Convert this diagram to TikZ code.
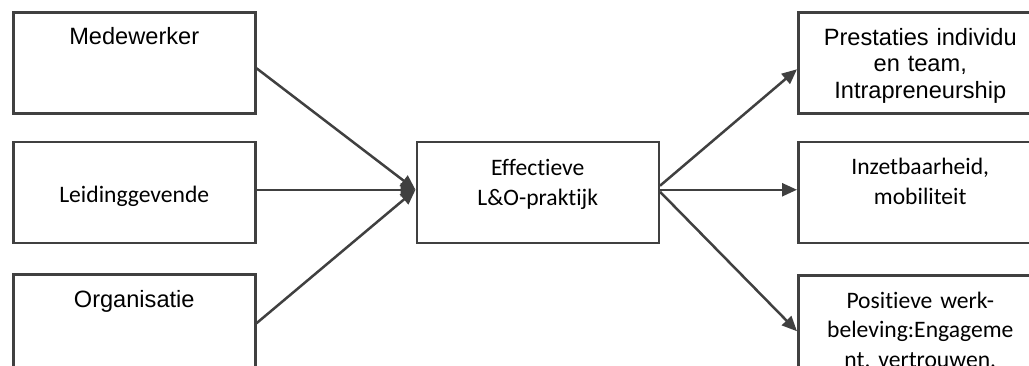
\documentclass[tikz,border=0pt]{standalone}
\usepackage{fontspec}
\setmainfont{Carlito}[Ligatures=CommonOff]
\newfontfamily\arialfont{Liberation Sans}
\usetikzlibrary{arrows.meta,positioning,calc}
\definecolor{linegray}{RGB}{64,64,64}
\tikzset{
	block/.style={
		rectangle,
		draw=linegray,
		line width=2.5pt,
		fill=white,
		inner sep=0pt,
		minimum width=242pt,
		minimum height=101pt,
	},
	arialtxt/.style={
		anchor=base,
		text width=236pt,
		align=center,
		inner sep=0pt,
		font=\arialfont\fontsize{23.6}{26.5}\selectfont,
	},
	calibritxt/.style={
		anchor=base,
		text width=236pt,
		align=center,
		inner sep=0pt,
		font=\fontsize{23.6}{29.8}\selectfont,
	},
	link/.style={
		-{Triangle[length=15pt,width=13pt]},
		draw=linegray,
		line width=2.5pt,
	}
}

\begin{document}
\begin{tikzpicture}[x=1pt,y=-1pt,node distance=26pt and 159pt]
\useasboundingbox (0,0) rectangle (1029,365);
\clip (0,0) rectangle (1029,365);

% left column
\node[block,anchor=north west] (med) at (12,11) {};
\node[block] (lei) [below=of med] {};
\node[block] (org) [below=29pt of lei] {};

% centre
\node[block] (eff) [right=of lei] {};

% right column
\node[block,minimum width=244pt,anchor=north west] (pre) at (797,11) {};
\node[block,minimum width=244pt] (inz) [below=of pre] {};
\node[block,minimum width=244pt] (pos) [below=30pt of inz] {};

% texts
\node[arialtxt] (med-t) at ($(med.north)+(0,33)$) {Medewerker};
\node[calibritxt] (lei-t) at ($(lei.north)+(0,62)$) {Leidinggevende};
\node[arialtxt] (org-t) at ($(org.north)+(0,34)$) {Organisatie};
\node[calibritxt] (eff-t) at ($(eff.north)+(0,35)$) {Effectieve\\L\&O-praktijk};
\node[arialtxt] (pre-t) at ($(pre.north)+(0,34)$) {Prestaties individu\\en team,\\Intrapreneurship};
\node[calibritxt] (inz-t) at ($(inz.north)+(0,34)$) {Inzetbaarheid,\\mobiliteit};
\node[calibritxt] (pos-t) at ($(pos.north)+(0,34)$) {Positieve werk-\\beleving:Engageme\\nt, vertrouwen,};

% arrows in
\draw[link] ($(med.east)+(0,5.5)$) -- ($(eff.west)+(0,-2.5)$);
\draw[link] ($(lei.east)+(0,-2.5)$) -- ($(eff.west)+(0,-2.5)$);
\draw[link] ($(org.east)+(0,-1.5)$) -- ($(eff.west)+(0,-2.5)$);

% arrows out
\draw[link] ($(eff.east)+(0,-6.5)$) -- ($(pre.west)+(0,6.5)$);
\draw[link] ($(eff.east)+(0,-2.5)$) -- ($(inz.west)+(0,-2.5)$);
\draw[link] ($(eff.east)+(0,-0.5)$) -- ($(pos.west)+(0,5.5)$);

\end{tikzpicture}
\end{document}
